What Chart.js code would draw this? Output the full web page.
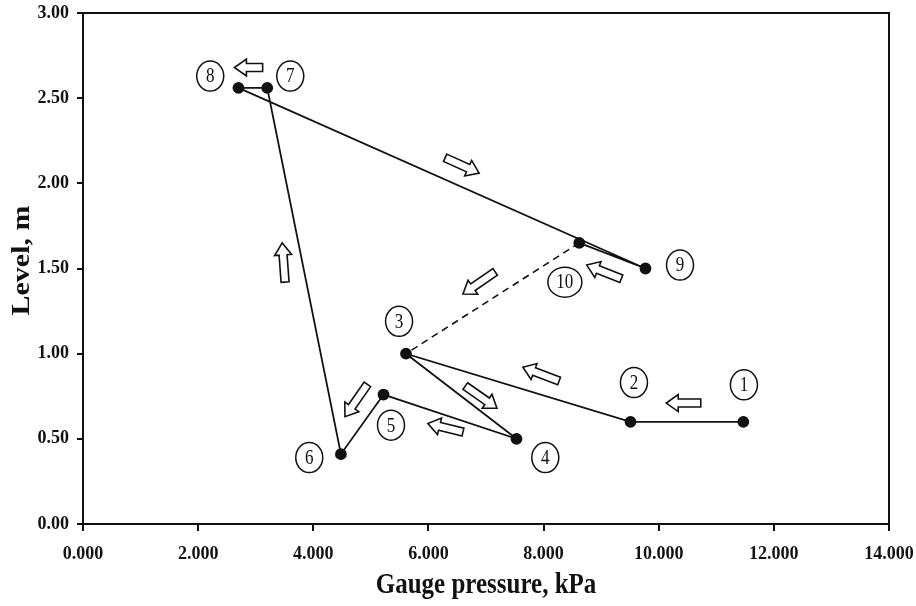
<!DOCTYPE html>
<html><head><meta charset="utf-8">
<script src="https://cdn.jsdelivr.net/npm/chart.js@4.4.0/dist/chart.umd.min.js"></script>
<style>html,body{margin:0;padding:0;background:#fff}</style>
</head><body>
<canvas id="c" width="916" height="606"></canvas>
<script>
// Measured operating points, in sequence 1..10
const stepLabels = ['1','2','3','4','5','6','7','8','9','10'];
const pressureKPa = [11.47, 9.51, 5.61, 7.53, 5.22, 4.48, 3.20, 2.70, 9.77, 8.62];
const levelM      = [0.60, 0.60, 1.00, 0.50, 0.76, 0.41, 2.56, 2.56, 1.50, 1.65];
// closing (dashed) leg: point 10 back to point 3
const closeX = [8.62, 5.61];
const closeY = [1.65, 1.00];
// circled step labels (data units)
const labelX = [11.48, 9.57, 5.49, 8.03, 5.35, 3.93, 3.60, 2.21, 10.37, 8.37];
const labelY = [0.817, 0.83, 1.19, 0.39, 0.58, 0.39, 2.63, 2.63, 1.52, 1.42];
// direction arrows: tail -> tip (data units)
const arrowTailX = [10.73, 8.27, 6.64, 6.60, 4.94, 3.51, 3.12, 6.29, 9.35, 7.16];
const arrowTailY = [0.71, 0.84, 0.81, 0.54, 0.82, 1.42, 2.68, 2.15, 1.44, 1.48];
const arrowTipX  = [10.13, 7.64, 7.19, 5.99, 4.55, 3.46, 2.63, 6.88, 8.75, 6.60];
const arrowTipY  = [0.71, 0.92, 0.68, 0.59, 0.63, 1.65, 2.68, 2.06, 1.52, 1.35];
// axis ticks
const xTicks = [0, 2, 4, 6, 8, 10, 12, 14];
const yTicks = [0, 0.5, 1, 1.5, 2, 2.5, 3];

const ink = '#111';
const serif = "'Liberation Serif', 'DejaVu Serif', serif";

const annot = {
  id: 'annot',
  afterDraw(chart) {
    const ctx = chart.ctx, xs = chart.scales.x, ys = chart.scales.y, a = chart.chartArea;
    ctx.save();
    // frame top/right
    ctx.strokeStyle = ink; ctx.lineWidth = 2;
    ctx.beginPath();
    ctx.moveTo(a.left, a.top); ctx.lineTo(a.right, a.top); ctx.lineTo(a.right, a.bottom);
    ctx.stroke();
    // arrows
    for (let i = 0; i < arrowTailX.length; i++) {
      const x0 = xs.getPixelForValue(arrowTailX[i]), y0 = ys.getPixelForValue(arrowTailY[i]);
      const x1 = xs.getPixelForValue(arrowTipX[i]), y1 = ys.getPixelForValue(arrowTipY[i]);
      const ang = Math.atan2(y1 - y0, x1 - x0);
      const L = Math.hypot(x1 - x0, y1 - y0);
      const hl = 12, sw = 4, hw = 8.5;
      ctx.save();
      ctx.translate(x0, y0); ctx.rotate(ang);
      ctx.beginPath();
      ctx.moveTo(0, -sw); ctx.lineTo(L - hl, -sw); ctx.lineTo(L - hl, -hw);
      ctx.lineTo(L, 0); ctx.lineTo(L - hl, hw); ctx.lineTo(L - hl, sw); ctx.lineTo(0, sw);
      ctx.closePath();
      ctx.fillStyle = '#fff'; ctx.fill();
      ctx.lineWidth = 1.6; ctx.strokeStyle = ink; ctx.stroke();
      ctx.restore();
    }
    // circled labels
    ctx.font = "17px " + serif;
    ctx.textAlign = 'center'; ctx.textBaseline = 'middle';
    for (let i = 0; i < stepLabels.length; i++) {
      const cx = xs.getPixelForValue(labelX[i]), cy = ys.getPixelForValue(labelY[i]);
      const rx = stepLabels[i].length > 1 ? 17 : 13.5, ry = 15;
      ctx.beginPath(); ctx.ellipse(cx, cy, rx, ry, 0, 0, Math.PI * 2);
      ctx.fillStyle = '#fff'; ctx.fill();
      ctx.lineWidth = 1.5; ctx.strokeStyle = ink; ctx.stroke();
      ctx.fillStyle = ink;
      ctx.save(); ctx.translate(cx, cy + 1); ctx.scale(1, 1.2);
      ctx.fillText(stepLabels[i], 0, 0);
      ctx.restore();
    }
    // axis titles (stretched like the source)
    ctx.fillStyle = ink;
    ctx.font = "bold 25px " + serif;
    ctx.textAlign = 'center'; ctx.textBaseline = 'alphabetic';
    ctx.save(); ctx.translate((a.left + a.right) / 2, 593); ctx.scale(1, 1.2);
    ctx.fillText('Gauge pressure, kPa', 0, 0); ctx.restore();
    ctx.save(); ctx.translate(29, (a.top + a.bottom) / 2 - 8); ctx.rotate(-Math.PI / 2); ctx.scale(1.2, 1);
    ctx.fillText('Level, m', 0, 0); ctx.restore();
    ctx.restore();
  }
};

new Chart(document.getElementById('c'), {
  type: 'scatter',
  data: {
    datasets: [
      {
        label: 'Operating path',
        data: pressureKPa.map((x, i) => ({x, y: levelM[i]})),
        showLine: true, borderColor: ink, borderWidth: 1.8,
        pointRadius: 5, pointBackgroundColor: ink, pointBorderColor: ink,
        tension: 0
      },
      {
        label: 'Return leg',
        data: closeX.map((x, i) => ({x, y: closeY[i]})),
        showLine: true, borderColor: ink, borderWidth: 1.6, borderDash: [7, 5],
        pointRadius: 0, tension: 0
      }
    ]
  },
  options: {
    responsive: false, animation: false, devicePixelRatio: 1,
    layout: { padding: { left: 0, right: 27, top: 13, bottom: 0 } },
    plugins: { legend: { display: false }, tooltip: { enabled: false } },
    scales: {
      x: {
        type: 'linear', min: 0, max: 14,
        afterFit: s => { s.height = 82; s.paddingLeft = 0; s.paddingRight = 0; },
        afterBuildTicks: s => { s.ticks = xTicks.map(v => ({value: v})); },
        grid: { drawOnChartArea: false, drawTicks: true, tickLength: 7, color: ink, lineWidth: 2 },
        border: { display: true, color: ink, width: 2 },
        ticks: { color: ink, padding: 13, maxRotation: 0, font: { family: serif, size: 18, weight: 'bold' },
                 callback: v => v.toFixed(3) },
        title: { display: false }
      },
      y: {
        type: 'linear', min: 0, max: 3,
        afterFit: s => { s.width = 83; s.paddingTop = 0; s.paddingBottom = 0; },
        afterBuildTicks: s => { s.ticks = yTicks.map(v => ({value: v})); },
        grid: { drawOnChartArea: false, drawTicks: true, tickLength: 6, color: ink, lineWidth: 2 },
        border: { display: true, color: ink, width: 2 },
        ticks: { color: ink, padding: 8, font: { family: serif, size: 18, weight: 'bold' },
                 callback: v => v.toFixed(2) },
        title: { display: false }
      }
    }
  },
  plugins: [annot]
});
</script>
</body></html>
